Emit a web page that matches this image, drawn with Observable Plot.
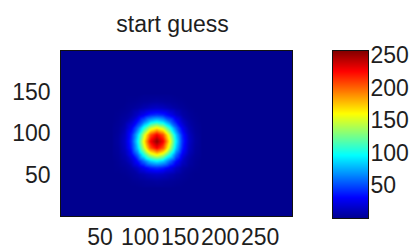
<!DOCTYPE html>
<html><head><meta charset="utf-8">
<script src="https://cdn.jsdelivr.net/npm/d3@7"></script>
<script src="https://cdn.jsdelivr.net/npm/@observablehq/plot@0.6"></script>
<style>
body{margin:0;background:#fff}
#wrap{display:flex;width:413px;height:250px;overflow:hidden}
</style>
</head><body><div id="wrap"></div>
<script>
// ---- data ----
const title = "start guess";
const imageWidth = 290;
const imageHeight = 200;
const xTicks = [50, 100, 150, 200, 250];
const yTicks = [50, 100, 150];
const colorTicks = [50, 100, 150, 200, 250];
const colorMin = 0;
const colorMax = 258;
const backgroundValue = 0;
// MATLAB "jet" colormap stops
const jetDomain = [0, 32, 97, 161, 226, 258];
const jetColors = ["#00008f", "#0000ff", "#00ffff", "#ffff00", "#ff0000", "#800000"];
// blob: samples on a 15x15 grid (step 8 units) around its centre, rows bottom -> top
const blobCenterX = 121;
const blobCenterY = 91;
const blobStep = 8;
const blobCols = 15;
const blobRows = 15;
const blobValues = [
  0,0,0,0,0,1,1,1,1,1,0,0,0,0,0,
  0,0,0,1,2,3,4,5,4,3,2,1,0,0,0,
  0,0,1,3,6,10,14,16,14,10,6,3,1,0,0,
  0,1,3,7,16,28,39,43,39,28,16,7,3,1,0,
  0,2,6,16,35,60,84,94,84,60,35,16,6,2,0,
  1,3,10,28,60,105,147,164,147,105,60,28,10,3,1,
  1,4,14,39,84,147,204,228,204,147,84,39,14,4,1,
  1,5,16,43,94,164,228,255,228,164,94,43,16,5,1,
  1,4,14,39,84,147,204,228,204,147,84,39,14,4,1,
  1,3,10,28,60,105,147,164,147,105,60,28,10,3,1,
  0,2,6,16,35,60,84,94,84,60,35,16,6,2,0,
  0,1,3,7,16,28,39,43,39,28,16,7,3,1,0,
  0,0,1,3,6,10,14,16,14,10,6,3,1,0,0,
  0,0,0,1,2,3,4,5,4,3,2,1,0,0,0,
  0,0,0,0,0,1,1,1,1,1,0,0,0,0,0
];

// ---- build tables for the library ----
const half = (blobCols - 1) / 2;
const blobPoints = blobValues.map((v, k) => ({
  x: blobCenterX + ((k % blobCols) - half) * blobStep,
  y: blobCenterY + (Math.floor(k / blobCols) - (blobRows - 1) / 2) * blobStep,
  v
}));
const background = [{v: backgroundValue}];

const colorScale = {type: "linear", domain: jetDomain, range: jetColors, interpolate: "rgb"};
const font = {fontFamily: "'Liberation Sans', Arial, Helvetica, sans-serif", fontSize: "23px", color: "#1e1e1e", background: "white", overflow: "visible"};

const main = Plot.plot({
  width: 320, height: 250,
  marginLeft: 60, marginRight: 28, marginTop: 50, marginBottom: 34,
  style: font,
  x: {domain: [0.5, imageWidth + 0.5], ticks: xTicks, tickSize: 0, tickPadding: 12, label: null},
  y: {domain: [0.5, imageHeight + 0.5], ticks: yTicks, tickSize: 0, tickPadding: 10, label: null},
  color: colorScale,
  marks: [
    Plot.rect(background, {x1: 0.5, x2: imageWidth + 0.5, y1: 0.5, y2: imageHeight + 0.5, fill: "v"}),
    Plot.raster(blobPoints, {x: "x", y: "y", fill: "v", interpolate: "barycentric"}),
    Plot.frame({stroke: "#111", strokeWidth: 1}),
    Plot.text([title], {text: d => d, frameAnchor: "top", dy: -26, dx: -4, lineAnchor: "middle", fontSize: 23, fill: "#1e1e1e"})
  ]
});

const bar = Plot.plot({
  width: 93, height: 250,
  marginLeft: 12, marginRight: 45, marginTop: 50, marginBottom: 32,
  style: font,
  x: {domain: [0, 1], axis: null},
  y: {domain: [colorMin, colorMax], axis: "right", ticks: colorTicks, tickSize: 0, tickPadding: 2, label: null},
  color: colorScale,
  marks: [
    Plot.raster({fill: (x, y) => y, x1: 0, x2: 1, y1: colorMin, y2: colorMax}),
    Plot.frame({stroke: "#111", strokeWidth: 1})
  ]
});

document.getElementById("wrap").append(main, bar);
</script>
</body></html>
